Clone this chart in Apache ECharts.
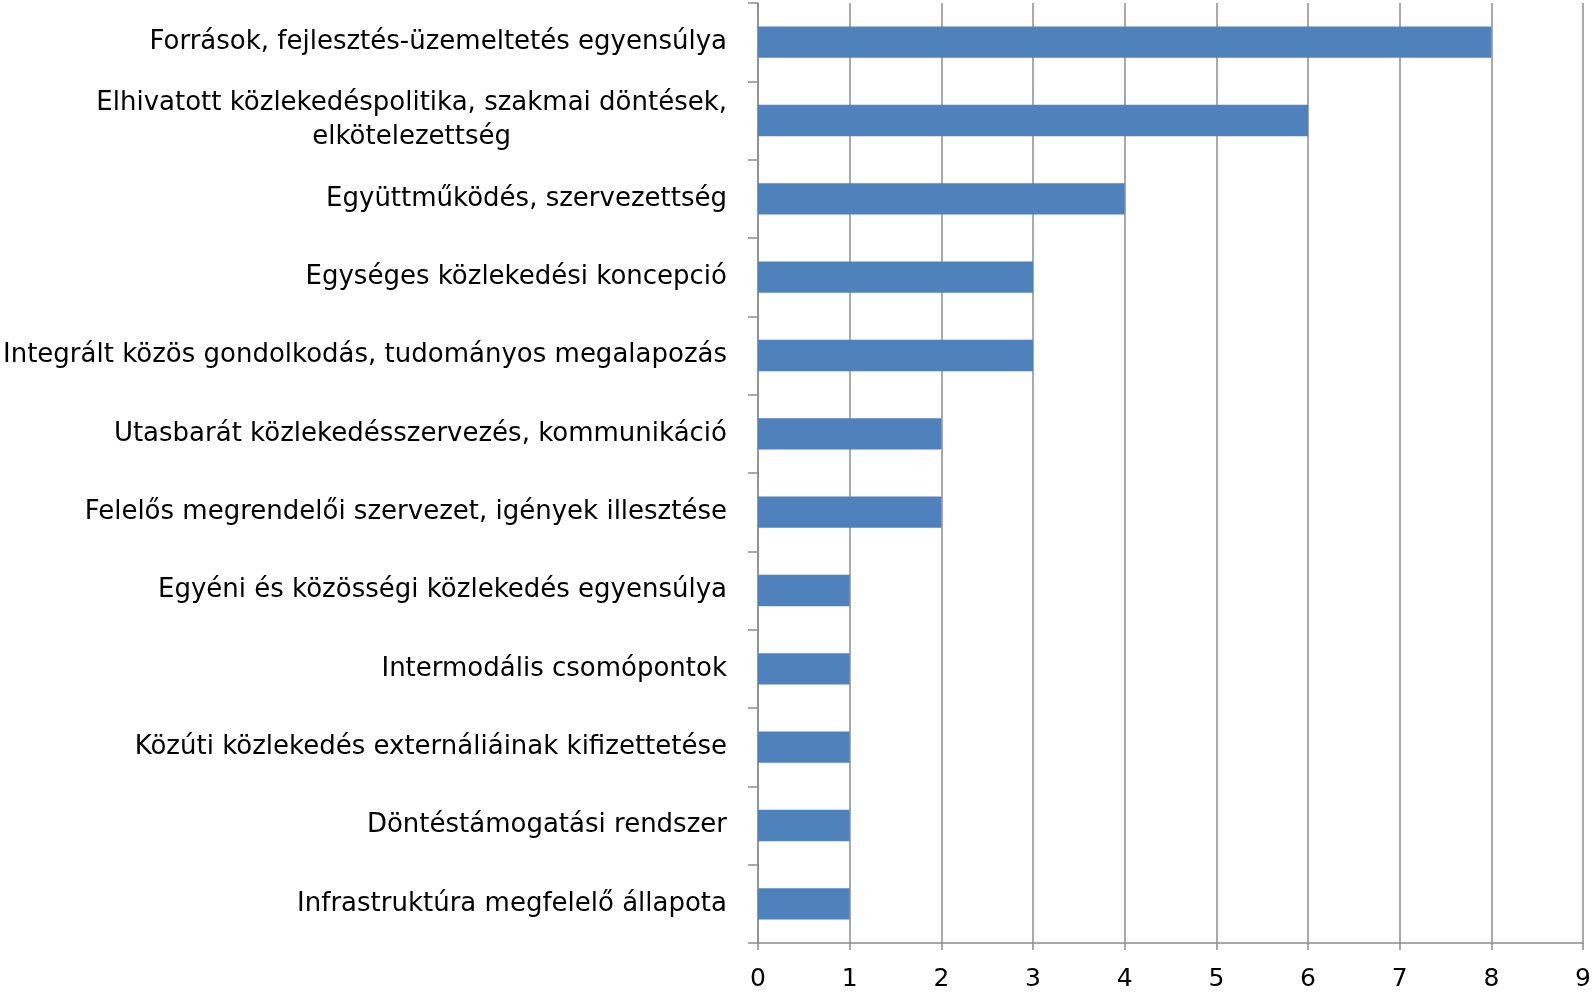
<!DOCTYPE html>
<html>
<head>
<meta charset="utf-8">
<script src="https://cdn.jsdelivr.net/npm/echarts@6/dist/echarts.min.js"></script>
<style>
html,body{margin:0;padding:0;background:#fff;}
#main{width:1594px;height:995px;}
</style>
</head>
<body>
<div id="main"></div>
<script>
var categories = [
	'Források, fejlesztés-üzemeltetés egyensúlya',
	'Elhivatott közlekedéspolitika, szakmai döntések,\nelkötelezettség',
	'Együttműködés, szervezettség',
	'Egységes közlekedési koncepció',
	'Integrált közös gondolkodás, tudományos megalapozás',
	'Utasbarát közlekedésszervezés, kommunikáció',
	'Felelős megrendelői szervezet, igények illesztése',
	'Egyéni és közösségi közlekedés egyensúlya',
	'Intermodális csomópontok',
	'Közúti közlekedés externáliáinak kifizettetése',
	'Döntéstámogatási rendszer',
	'Infrastruktúra megfelelő állapota'
];
var values = [8, 6, 4, 3, 3, 2, 2, 1, 1, 1, 1, 1];
var xTicks = [0, 1, 2, 3, 4, 5, 6, 7, 8, 9];

var gray = '#8c8c8c';
var font = 'DejaVu Sans';

var myChart = echarts.init(document.getElementById('main'));
var option = {
	backgroundColor: '#fff',
	animation: false,
	grid: {left: 758, right: 7, top: 3, bottom: 52, containLabel: false},
	xAxis: {
		type: 'value',
		min: xTicks[0],
		max: xTicks[xTicks.length - 1],
		interval: 1,
		axisLine: {show: true, lineStyle: {color: gray, width: 1.5}},
		axisTick: {show: true, length: 7, lineStyle: {color: gray, width: 1.5}},
		splitLine: {show: true, lineStyle: {color: gray, width: 1.5}},
		axisLabel: {color: '#000', fontFamily: font, fontSize: 25, margin: 24}
	},
	yAxis: {
		type: 'category',
		data: categories,
		inverse: true,
		axisLine: {show: true, lineStyle: {color: gray, width: 1.5}},
		axisTick: {show: true, length: 10, lineStyle: {color: gray, width: 1.5}},
		axisLabel: {
			color: '#000',
			fontFamily: font,
			fontSize: 26,
			margin: 31,
			lineHeight: 34,
			formatter: function (v) {
				// wrapped lines centered, like the original
				return v.split('\n').map(function (s) { return '{c|' + s + '}'; }).join('\n');
			},
			rich: {c: {align: 'center', fontFamily: font, fontSize: 26, lineHeight: 34, color: '#000'}}
		}
	},
	series: [{
		type: 'bar',
		data: values,
		barCategoryGap: '60%',
		itemStyle: {color: '#4f81bd'}
	}]
};
myChart.setOption(option);
</script>
</body>
</html>
